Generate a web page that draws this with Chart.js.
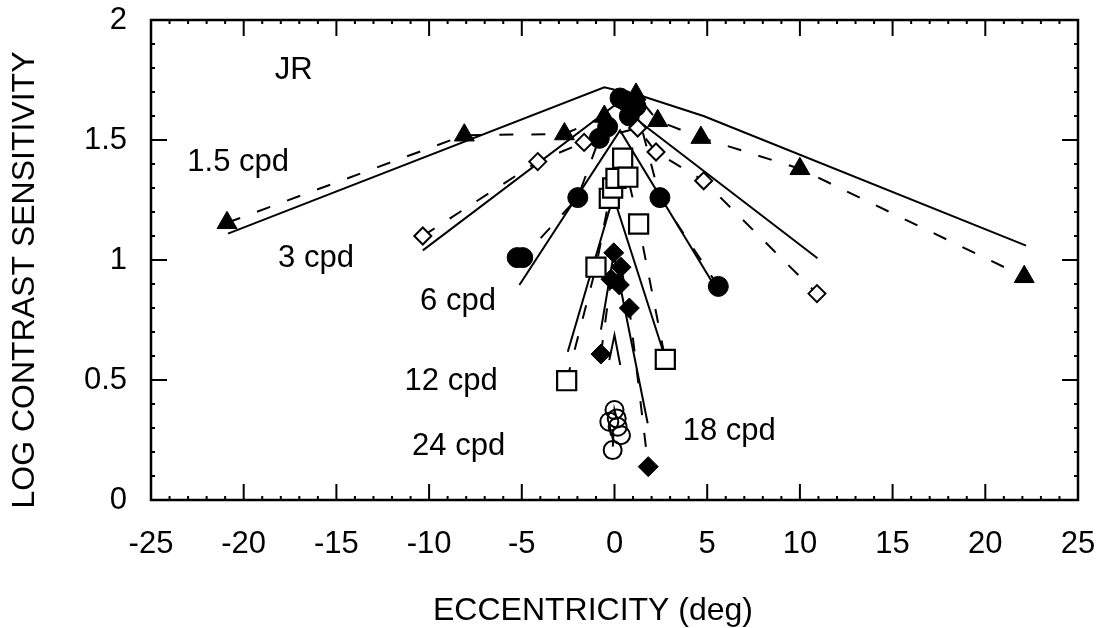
<!DOCTYPE html>
<html>
<head>
<meta charset="utf-8">
<title>JR contrast sensitivity vs eccentricity</title>
<script src="https://cdn.jsdelivr.net/npm/chart.js@4.4.0/dist/chart.umd.min.js"></script>
<style>
    html, body { margin: 0; padding: 0; background: #fff; }
    canvas { display: block; }
</style>
</head>
<body>
<canvas id="chart" width="1096" height="628"></canvas>
<script>
var FONT = '"Liberation Sans", Arial, Helvetica, sans-serif';

// 1.5 cpd - filled triangles
var ecc15 = [-20.9, -8.1, -2.7, -0.55, 1.16, 2.33, 4.66, 10.0, 22.1];
var lcs15 = [1.155, 1.52, 1.525, 1.598, 1.69, 1.58, 1.51, 1.38, 0.93];
var fitEcc15 = [-20.85, -0.55, 1.6, 4.8, 22.2];
var fitLcs15 = [1.11, 1.72, 1.68, 1.60, 1.06];

// 3 cpd - open diamonds
var ecc3 = [-10.34, -4.14, -1.64, 1.25, 2.24, 4.81, 10.92];
var lcs3 = [1.10, 1.41, 1.49, 1.55, 1.45, 1.33, 0.86];
var fitEcc3 = [-10.34, 0.1, 10.95];
var fitLcs3 = [1.04, 1.65, 1.007];

// 6 cpd - filled circles
var ecc6 = [-5.25, -4.95, -1.98, -0.82, -0.37, 0.3, 0.55, 0.8, 1.16, 2.45, 5.6];
var lcs6 = [1.01, 1.01, 1.26, 1.507, 1.555, 1.675, 1.665, 1.6, 1.64, 1.26, 0.89];
var fitEcc6 = [-5.13, 0.3, 5.2];
var fitLcs6 = [0.896, 1.54, 0.917];

// 12 cpd - open squares
var ecc12 = [-2.58, -1.0, -0.28, -0.1, 0.08, 0.44, 0.72, 1.3, 2.74];
var lcs12 = [0.497, 0.97, 1.257, 1.30, 1.34, 1.424, 1.345, 1.15, 0.586];
var fitEcc12 = [-2.52, -0.06, 2.6];
var fitLcs12 = [0.618, 1.265, 0.625];

// 18 cpd - filled diamonds
var ecc18 = [-0.73, -0.19, -0.04, 0.26, 0.35, 0.8, 1.82];
var lcs18 = [0.608, 0.92, 1.03, 0.896, 0.97, 0.80, 0.139];
var fitEcc18 = [-0.73, -0.04, 1.79];
var fitLcs18 = [0.71, 1.026, 0.32];

// 24 cpd - open circles
var ecc24 = [-0.28, -0.1, 0.0, 0.12, 0.17, 0.35];
var lcs24 = [0.326, 0.208, 0.375, 0.34, 0.305, 0.27];
var fitEcc24 = [-0.28, 0.0, 0.31];
var fitLcs24 = [0.583, 0.6875, 0.5625];

// text labels inside the plot
var noteText = ['JR', '1.5 cpd', '3 cpd', '6 cpd', '12 cpd', '24 cpd', '18 cpd'];
var noteEcc = [-17.3, -20.3, -16.1, -8.44, -8.81, -8.41, 6.19];
var noteLcs = [1.79, 1.406, 1.008, 0.829, 0.492, 0.223, 0.2875];

var xTitle = 'ECCENTRICITY (deg)';
var yTitle = 'LOG CONTRAST SENSITIVITY';

// draw order: first entry ends up on top
var series = [
    { ecc: ecc24, lcs: lcs24, fitEcc: fitEcc24, fitLcs: fitLcs24, shape: 'circle', size: 9, fill: 'rgba(255,255,255,0)', border: 2 },
    { ecc: ecc12, lcs: lcs12, fitEcc: fitEcc12, fitLcs: fitLcs12, shape: 'rect', size: 13.5, fill: '#fff', border: 2.2 },
    { ecc: ecc3, lcs: lcs3, fitEcc: fitEcc3, fitLcs: fitLcs3, shape: 'rectRot', size: 8.5, fill: '#fff', border: 2 },
    { ecc: ecc18, lcs: lcs18, fitEcc: fitEcc18, fitLcs: fitLcs18, shape: 'rectRot', size: 10, fill: '#000', border: 1 },
    { ecc: ecc6, lcs: lcs6, fitEcc: fitEcc6, fitLcs: fitLcs6, shape: 'circle', size: 10, fill: '#000', border: 1 },
    { ecc: ecc15, lcs: lcs15, fitEcc: fitEcc15, fitLcs: fitLcs15, shape: 'triangle', size: 11.5, fill: '#000', border: 1 }
];

function toPoints(xs, ys) {
    return xs.map(function (x, i) { return { x: x, y: ys[i] }; });
}

function buildDatasets() {
    var markers = [], dashed = [], fits = [];
    series.forEach(function (s) {
        markers.push({
            data: toPoints(s.ecc, s.lcs),
            showLine: false,
            pointStyle: s.shape,
            pointRadius: s.size,
            pointHoverRadius: s.size,
            pointBackgroundColor: s.fill,
            pointBorderColor: '#000',
            pointBorderWidth: s.border
        });
        dashed.push({
            data: toPoints(s.ecc, s.lcs).sort(function (a, b) { return a.x - b.x; }),
            showLine: true,
            borderColor: '#000',
            borderWidth: 2,
            borderDash: [14, 18],
            pointRadius: 0,
            fill: false
        });
        fits.push({
            data: toPoints(s.fitEcc, s.fitLcs),
            showLine: true,
            borderColor: '#000',
            borderWidth: 2,
            pointRadius: 0,
            fill: false
        });
    });
    return markers.concat(dashed, fits);
}

var framePlugin = {
    id: 'frame',
    afterDraw: function (chart) {
        var ctx = chart.ctx, a = chart.chartArea;
        var xs = chart.scales.x, ys = chart.scales.y;
        var v, px, len;
        ctx.save();
        ctx.strokeStyle = '#000';
        ctx.lineWidth = 2.5;
        ctx.strokeRect(a.left, a.top, a.right - a.left, a.bottom - a.top);

        ctx.lineWidth = 2;
        ctx.beginPath();
        for (v = -25; v <= 25; v += 1) {
            px = xs.getPixelForValue(v);
            len = (v % 5 === 0) ? 16 : 4;
            ctx.moveTo(px, a.bottom); ctx.lineTo(px, a.bottom - len);
            ctx.moveTo(px, a.top); ctx.lineTo(px, a.top + len);
        }
        for (v = 0; v <= 20; v += 1) {
            px = ys.getPixelForValue(v / 10);
            len = (v % 5 === 0) ? 16 : 4;
            ctx.moveTo(a.left, px); ctx.lineTo(a.left + len, px);
            ctx.moveTo(a.right, px); ctx.lineTo(a.right - len, px);
        }
        ctx.stroke();

        // notes
        ctx.fillStyle = '#000';
        ctx.font = '31px ' + FONT;
        ctx.textAlign = 'center';
        ctx.textBaseline = 'middle';
        noteText.forEach(function (t, i) {
            ctx.fillText(t, xs.getPixelForValue(noteEcc[i]), ys.getPixelForValue(noteLcs[i]));
        });

        // axis titles
        ctx.font = '32px ' + FONT;
        ctx.fillText(xTitle, 593, 611);
        ctx.translate(25, 280);
        ctx.rotate(-Math.PI / 2);
        ctx.fillText(yTitle, 0, 0);
        ctx.restore();
    }
};

new Chart(document.getElementById('chart'), {
    type: 'scatter',
    data: { datasets: buildDatasets() },
    options: {
        responsive: false,
        animation: false,
        devicePixelRatio: 1,
        layout: { padding: { top: 20, right: 18, left: 0, bottom: 0 } },
        plugins: {
            legend: { display: false },
            tooltip: { enabled: false }
        },
        scales: {
            x: {
                type: 'linear',
                min: -25,
                max: 25,
                ticks: { stepSize: 5, padding: 26, color: '#000', font: { family: FONT, size: 31 } },
                grid: { display: false, drawTicks: false },
                border: { display: false },
                afterFit: function (s) { s.height = 128; s.paddingLeft = 0; s.paddingRight = 0; }
            },
            y: {
                type: 'linear',
                min: 0,
                max: 2,
                ticks: {
                    stepSize: 0.5, padding: 24, color: '#000', font: { family: FONT, size: 31 },
                    callback: function (v) { return String(v); }
                },
                grid: { display: false, drawTicks: false },
                border: { display: false },
                afterFit: function (s) { s.width = 151; s.paddingTop = 0; s.paddingBottom = 0; }
            }
        }
    },
    plugins: [framePlugin]
});
</script>
</body>
</html>
